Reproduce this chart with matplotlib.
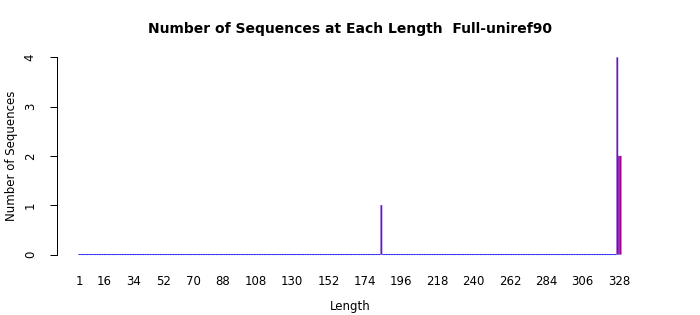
import matplotlib
matplotlib.use("Agg")
import matplotlib.pyplot as plt

# Data: sequence lengths 1..329 and counts (only non-zero lengths listed)
lengths = list(range(1, 330))
nonzero_lengths = [184, 327, 328, 329]
nonzero_counts = [1, 4, 2, 2]
shown_labels = [1, 16, 34, 52, 70, 88, 108, 130, 152, 174, 196, 218, 240,
                262, 284, 306, 328]
y_ticks = [0, 1, 2, 3, 4]

count_map = dict(zip(nonzero_lengths, nonzero_counts))
counts = [count_map.get(L, 0) for L in lengths]

# R barplot-like positions: width 1, space 0.2
centers = [i * 1.2 + 0.7 for i in range(len(lengths))]
pos = dict(zip(lengths, centers))

fig = plt.figure(figsize=(7.0, 3.15), dpi=100)
ax = fig.add_axes([57 / 700, 1 - 262.4 / 315, (643 - 57) / 700, (262.9 - 50.1) / 315])

zero_x = [c for c, v in zip(centers, counts) if v == 0]
zero_h = [v for v in counts if v == 0]
nz_x = [c for c, v in zip(centers, counts) if v > 0]
nz_h = [v for v in counts if v > 0]

# zero-height bars: only their blue border shows, as a base line
zb = ax.bar(zero_x, zero_h, width=1.2, color="none", edgecolor="#2a2aff",
            linewidth=0.75, align="center")
# non-zero bars: purple fill with blue border
nb = ax.bar(nz_x, nz_h, width=1.1, color="#A0008C", edgecolor="#4040ff",
            linewidth=0.18, align="center")
for b in list(zb) + list(nb):
    b.set_snap(False)

ax.set_xlim(-15.6, 410.6)
ax.set_ylim(-0.16, 4.16)

for s in ["top", "right", "bottom"]:
    ax.spines[s].set_visible(False)
ax.spines["left"].set_bounds(0, 4)
ax.spines["left"].set_linewidth(0.72)

ax.set_yticks(y_ticks)
ax.set_yticklabels([str(v) for v in y_ticks], rotation=90, va="center")
ax.tick_params(axis="y", length=5, width=0.72, pad=9.5, labelsize=8.5)

ax.set_xticks([pos[L] for L in shown_labels])
ax.set_xticklabels([str(L) for L in shown_labels])
ax.tick_params(axis="x", length=0, pad=9, labelsize=8.5)

ax.set_xlabel("Length", fontsize=8.5, labelpad=9)
ax.set_ylabel("Number of Sequences", fontsize=8.5, labelpad=4)
fig.text(0.5, 1 - 29 / 315, "Number of Sequences at Each Length  Full-uniref90",
         ha="center", va="center", fontsize=10, fontweight="bold")

fig.savefig("out.png", dpi=100)
